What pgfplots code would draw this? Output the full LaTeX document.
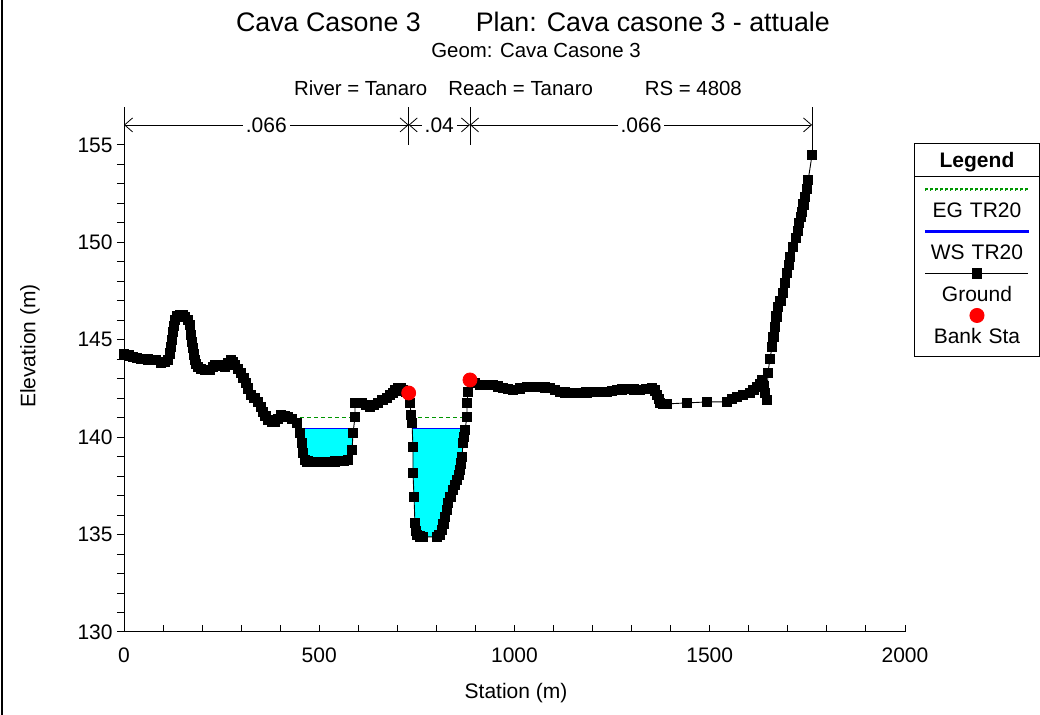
\documentclass[border=0pt]{standalone}
\usepackage{pgfplots}
\pgfplotsset{compat=1.18}
\usepackage{fontspec}
\setmainfont{Liberation Sans}
\usetikzlibrary{arrows.meta}
\definecolor{wsblue}{RGB}{0,0,255}
\definecolor{egreen}{RGB}{0,150,0}
\definecolor{water}{RGB}{0,255,255}
\definecolor{bankred}{RGB}{255,0,0}
\newcommand{\lblfont}{\fontsize{10.5}{12}\selectfont}
\tikzset{barb/.tip={Straight Barb[length=4pt,width=7pt]}}
% legend samples sit above their text, as in HEC-RAS
\pgfplotsset{
    leg ws/.style={legend image code/.code={\fill[overlay,wsblue] (5.5pt,13.75pt) rectangle (57pt,14.25pt);}},
    leg eg/.style={legend image code/.code={\foreach \i in {0,...,20}{\fill[overlay,egreen] ({5.5pt+\i*2.5pt},13.75pt) rectangle ++(1.5pt,0.5pt);}}},
    leg marked line/.style={legend image code/.code={\draw[overlay,mark repeat=2,mark phase=2,##1] plot coordinates {(5.5pt,14pt) (31.25pt,14pt) (57pt,14pt)};}},
    leg mark/.style={legend image code/.code={\draw[overlay,##1] plot coordinates {(31.25pt,14pt)};}},
    leg header/.style={legend image code/.code={\draw[overlay,black,line width=0.5pt] (0pt,-4.4pt) -- (62.5pt,-4.4pt);}},
}

\begin{document}
\begin{tikzpicture}
\useasboundingbox (0,0) rectangle (520pt,357.5pt);
\draw[line width=0.8pt] (1pt,0) -- (1pt,357.5pt);

% titles
\node[font=\fontsize{13.4}{15}\selectfont] at (266.5pt,346.5pt) {Cava Casone 3\hspace{27.5pt}Plan: Cava casone 3 - attuale};
\node[font=\fontsize{10.2}{12}\selectfont] at (268pt,332.5pt) {Geom: Cava Casone 3};
\node[font=\fontsize{10.2}{12}\selectfont] at (259pt,313.5pt) {River = Tanaro\hspace{10.5pt}Reach = Tanaro\hspace{26pt}RS = 4808};

\begin{axis}[
    at={(62pt,41.5pt)}, anchor=south west,
    scale only axis, width=390.5pt, height=243.5pt,
    xmin=0, xmax=2000, ymin=130, ymax=155,
    clip=false,
    axis lines=left, axis line style={-, line width=0.5pt},
    xtick={0,500,1000,1500,2000}, ytick={130,135,...,155},
    minor tick num=4,
    xtick align=inside, ytick align=outside,
    major tick length=3.5pt, minor tick length=3.5pt,
    every tick/.style={black, line width=0.5pt},
    scaled ticks=false,
    /pgf/number format/1000 sep={},
    /pgf/number format/assume math mode=true,
    tick label style={font=\lblfont},
    xticklabel style={anchor=base, yshift=-15.25pt},
    yticklabel style={anchor=east, inner sep=0pt, xshift=-2pt},
    xlabel={Station (m)}, ylabel={Elevation (m)},
    label style={font=\lblfont},
    xlabel style={at={(axis description cs:0.502,0)}, anchor=center, yshift=-30.5pt},
    ylabel style={at={(axis description cs:-0.1204,0.587)}, anchor=center},
    legend style={at={(rel axis cs:1.0115,1.0041)}, anchor=north west,
        draw=black, line width=0.5pt, fill=white, inner sep=0pt,
        row sep=0pt, column sep=0pt, font=\lblfont,
        nodes={inner sep=0pt, text width=62.5pt, align=center,
               text height=14.5pt, text depth=6.5pt},
        cells={anchor=base}},
]

% legend header
\addlegendimage{leg header}
\addlegendentry[text height=12pt, text depth=10.5pt]{\textbf{Legend}}

% water areas
\addplot[fill=water, draw=none, forget plot] coordinates {
    (448,140.45) (450.7,140.22) (455.9,139.70) (458.4,139.19) (463.5,138.83) (476,138.73)
    (528,138.73) (553,138.78) (574,138.83) (584,139.34) (586.5,140.22) (588,140.45)
} -- cycle;
\addplot[fill=water, draw=none, forget plot] coordinates {
    (738,140.45) (740,139.50) (740,138.16) (742.7,136.93) (745,135.60) (748,135.2)
    (750.4,134.98) (765.7,134.88) (801.6,134.88) (814.4,135.24) (822,135.91)
    (829.8,136.62) (842.6,137.29) (852.8,137.80) (860.5,138.32) (865.6,138.98)
    (868,139.70) (873,140.37) (873.6,140.45)
} -- cycle;

% energy grade
\addplot[color=egreen, line width=0.7pt, dash pattern=on 2pt off 1.5pt, leg eg]
    coordinates {(361,141.0) (591.6,141.0)};
\addlegendentry{EG TR20}
\addplot[color=egreen, line width=0.7pt, dash pattern=on 2pt off 1.5pt, forget plot]
    coordinates {(735,141.0) (878.4,141.0)};

% water surface
\addplot[color=wsblue, line width=0.6pt, leg ws]
    coordinates {(448,140.45) (588,140.45)};
\addlegendentry{WS TR20}
\addplot[color=wsblue, line width=0.6pt, forget plot]
    coordinates {(738,140.45) (873.6,140.45)};

% ground
\addplot[black, line width=0.45pt, mark=square*, mark size=2.3pt, mark options={solid,fill=black},
    leg marked line]
    coordinates {
    (0,144.27) (12,144.2) (23,144.12) (33,144.07) (43,144.02) (62,143.99) (82,143.96)
    (94,143.81) (104,143.88) (113,143.96) (118,144.3) (120,144.63) (123,145.0)
    (125.5,145.40) (128,145.7) (131,146.02) (137,146.2) (143,146.27) (150,146.25)
    (156,146.17) (163,146.0) (169,145.76) (171.6,145.25) (174,144.9) (176.7,144.58)
    (179,144.25) (182,143.96) (185,143.75) (189.5,143.60) (198,143.5) (207,143.45)
    (214,143.45) (220,143.45) (227,143.6) (233,143.71) (246,143.68) (259,143.60)
    (267,143.8) (274,143.96) (279,143.85) (284,143.71) (292,143.5) (300,143.30)
    (306,143.05) (312,142.78) (318,142.5) (325,142.17) (334,142.0) (343,141.81)
    (350,141.55) (356,141.29) (362,141.1) (369,140.88) (378,140.8) (387,140.78)
    (395,140.95) (402,141.14) (411,141.1) (420,141.04) (430,140.95) (443,140.73)
    (450.7,140.22) (455.9,139.70) (458.4,139.19) (463.5,138.83) (470,138.75)
    (476,138.73) (489,138.73) (502,138.73) (515,138.73) (528,138.73) (540,138.75)
    (553,138.78) (564,138.8) (574,138.83) (584,139.34) (586.5,140.22) (591.6,141.04)
    (591.6,141.76) (600,141.76) (609.5,141.76) (620,141.65) (630,141.55) (640,141.65)
    (650.5,141.76) (662,141.9) (673.5,142.01) (681,142.15) (689,142.27) (695,142.4)
    (701.7,142.53) (708,142.5) (714.5,142.42) (721,142.35) (727.3,142.27)
    (732.4,141.76) (735,141.14) (737.5,140.73) (740,139.50) (740,138.16)
    (742.7,136.93) (745,135.60) (748,135.2) (750.4,134.98) (758,134.9) (765.7,134.88)
    (801.6,134.88) (808,135.0) (814.4,135.24) (818,135.55) (822,135.91) (826,136.25)
    (829.8,136.62) (836,136.95) (842.6,137.29) (848,137.55) (852.8,137.80)
    (857,138.05) (860.5,138.32) (863,138.65) (865.6,138.98) (868,139.70)
    (870.5,140.0) (873,140.37) (878.4,141.04) (878.4,141.76) (881,142.32)
    (886,142.94) (899,142.8) (911.7,142.68) (928,142.68) (945,142.68) (958,142.6)
    (970.6,142.53) (983,142.47) (996,142.42) (1014,142.5) (1032,142.58)
    (1048,142.58) (1065,142.58) (1078,142.55) (1091,142.53) (1104,142.42)
    (1116.6,142.32) (1129,142.3) (1142,142.27) (1155,142.27) (1168,142.27)
    (1184,142.3) (1201,142.32) (1219,142.32) (1237,142.32) (1250,142.37)
    (1262.6,142.42) (1275,142.45) (1288,142.47) (1305,142.45) (1321.5,142.42)
    (1337,142.47) (1352,142.53) (1359,142.4) (1365,142.17) (1369,141.95)
    (1372.7,141.76) (1380,141.72) (1390.6,141.71) (1442,141.76) (1493,141.81)
    (1544,141.81) (1557,141.95) (1570,142.07) (1586,142.17) (1603,142.27)
    (1612,142.42) (1621,142.58) (1628,142.75) (1634,142.94) (1638,142.6)
    (1641.6,142.27) (1646.7,141.91) (1649,143.30) (1654,144.0) (1659.5,144.63)
    (1663,145.15) (1667,145.66) (1671,146.2) (1675,146.68) (1681,147.0) (1688,147.40)
    (1693,147.9) (1698,148.43) (1702,148.85) (1705.6,149.25) (1713,149.76)
    (1721,150.23) (1725,150.6) (1729,151.00) (1733,151.3) (1736,151.56) (1740,151.95)
    (1744,152.33) (1748,152.75) (1752,153.20) (1762,154.49)
};
\addlegendentry{Ground}

% bank stations
\addplot[only marks, mark=*, mark size=3.5pt, color=bankred, leg mark]
    coordinates {(729,142.27) (886,142.94)};
\addlegendentry{Bank Sta}

% Manning's n segments
\draw[line width=0.4pt] (axis cs:0,155) -- (axis cs:0,156.95);
\draw[line width=0.4pt] (axis cs:729,155) -- (axis cs:729,156.95);
\draw[line width=0.4pt] (axis cs:886,155) -- (axis cs:886,156.95);
\draw[line width=0.4pt] (axis cs:1762,154.6) -- (axis cs:1762,156.95);
\draw[line width=0.4pt, barb-barb] (axis cs:0,156.03) -- (axis cs:729,156.03)
    node[midway, fill=white, inner sep=1.5pt, font=\lblfont] {.066};
\draw[line width=0.4pt, barb-barb] (axis cs:729,156.03) -- (axis cs:886,156.03)
    node[midway, fill=white, inner sep=1.5pt, font=\lblfont] {.04};
\draw[line width=0.4pt, barb-barb] (axis cs:886,156.03) -- (axis cs:1762,156.03)
    node[midway, fill=white, inner sep=1.5pt, font=\lblfont] {.066};
\end{axis}
\end{tikzpicture}
\end{document}
